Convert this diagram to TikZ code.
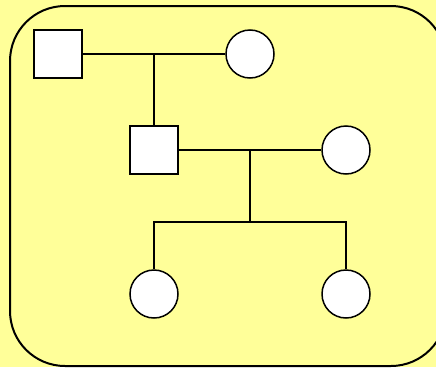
\documentclass[tikz,border=0pt]{standalone}
\usetikzlibrary{calc}

\definecolor{paleyellow}{HTML}{FFFF99}

\begin{document}
\begin{tikzpicture}[x=1pt, y=-1pt, line width=1.5pt,
                    male/.style={draw, fill=white, rectangle, minimum size=48pt, inner sep=0pt},
                    female/.style={draw, fill=white, circle, minimum size=48pt, inner sep=0pt},
                    family frame/.style={draw, line width=2pt, fill=paleyellow, rounded corners=55pt}]

  % Page and background
  \fill[paleyellow] (0,0) rectangle (436,367);
  \useasboundingbox (0,0) rectangle (436,367);
  \clip (0,0) rectangle (436,367);
  \draw[family frame] (10,6) rectangle (446,366);

  % First generation
  \node [male]   (grandfather) at (58,54)  {};
  \node [female] (grandmother) at (250,54) {};
  \coordinate (first couple) at (154,54);

  % Second generation
  \node [male]   (father) at (154,150) {};
  \node [female] (mother) at (346,150) {};
  \coordinate (second couple) at (250,150);
  \coordinate (sibling bar) at (250,222);

  % Third generation
  \foreach \child/\x in {left/154, right/346} {
    \node [female] (daughter \child) at (\x,294) {};
  }

  % Marriage lines and descent lines
  \draw (grandfather) -- (grandmother);
  \draw (first couple) -- (father);
  \draw (father) -- (mother);
  \draw (second couple) -- (sibling bar);
  \draw (daughter left) |- (sibling bar) -| (daughter right);

\end{tikzpicture}
\end{document}
